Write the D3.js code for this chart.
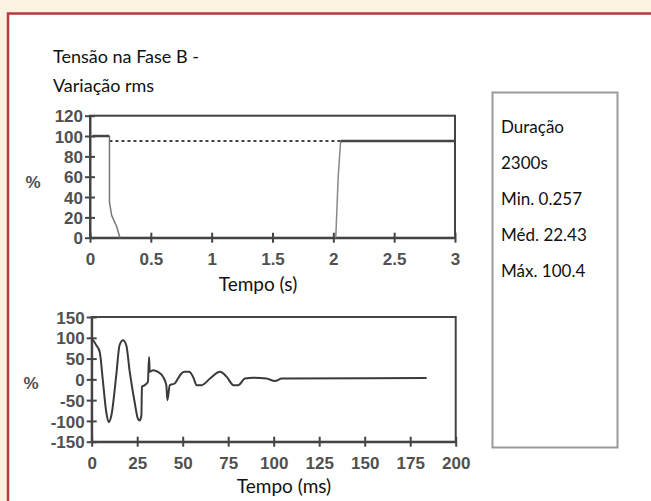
<!DOCTYPE html>
<html>
<head>
<meta charset="utf-8">
<script src="https://cdn.jsdelivr.net/npm/d3@7/dist/d3.min.js"></script>
<style>
  html, body { margin: 0; padding: 0; background: #fcf2e4; }
  svg { display: block; }
</style>
</head>
<body>
<svg id="chart" width="651" height="501"></svg>
<script>
// ---------- DATA ----------
const titleLines = ["Tensão na Fase B -", "Variação rms"];
const statLines = ["Duração", "2300s", "Min. 0.257", "Méd. 22.43", "Máx. 100.4"];

// Top chart: rms variation (time in s, value in %)
const rmsTicksX = [0, 0.5, 1, 1.5, 2, 2.5, 3];
const rmsTicksY = [0, 20, 40, 60, 80, 100, 120];
const rmsPreTime = [0.02, 0.16];
const rmsPreValue = [100, 100];
const rmsDropTime = [0.16, 0.16, 0.178, 0.219, 0.246];
const rmsDropValue = [100, 35, 22, 11, 0];
const rmsRiseTime = [2.02, 2.04, 2.06];
const rmsRiseValue = [0, 60, 95];
const rmsPostTime = [2.06, 3];
const rmsPostValue = [95, 95];
const rmsRefTime = [0.16, 2.06];
const rmsRefValue = [95, 95];

// Bottom chart: waveform (time in ms, value in %)
const waveTicksX = [0, 25, 50, 75, 100, 125, 150, 175, 200];
const waveTicksY = [-150, -100, -50, 0, 50, 100, 150];
const waveTime = [0, 0.7, 2.5, 4.4, 6.2, 8, 9.3, 10.8, 13.5, 15.3, 17.2, 19, 20.9, 23.6, 25.4, 26.4, 27.3, 27.6, 29.1, 30.9, 31.5, 31.9, 33.7, 36.4, 39.2, 41, 41.6, 42.9, 45.6, 47.4, 49.3, 51.1, 53.5, 55.8, 57.7, 60.4, 65, 70.5, 74.2, 77.9, 80.5, 84.2, 88.8, 96, 100.7, 104.4, 184];
const waveValue = [95, 94, 82, 66, -6, -79, -103, -87, 10, 82, 94, 82, 18, -55, -95, -99, -87, -18, -14, -6, 54, 18, 22, 18, 6, -14, -50, -14, -10, 2, 14, 18, 18, 5, -14, -14, 2, 18, 6, -14, -14, 2, 4, 2, -4, 2, 3];

// ---------- DRAW ----------
const svg = d3.select("#chart");
const frameCol = "#444";
const tickFont = "'Liberation Sans Narrow', 'Arial Narrow', sans-serif";
const textFont = "Lato, 'Open Sans', sans-serif";

// outer panel with red border
svg.append("rect").attr("x", 0).attr("y", 0).attr("width", 651).attr("height", 501).attr("fill", "#fcf2e4");
svg.append("rect").attr("x", 9).attr("y", 15).attr("width", 642).attr("height", 486).attr("fill", "#fff");
svg.append("path").attr("d", "M8,501 V13.5 H651").attr("fill", "none")
  .attr("stroke", "#b8393e").attr("stroke-width", 2.5);

// title
svg.append("g").selectAll("text").data(titleLines).join("text")
  .attr("x", 53).attr("y", (d, i) => 63 + i * 29)
  .attr("font-family", textFont).attr("font-size", 18).attr("fill", "#111")
  .text(d => d);

// stats box
svg.append("rect").attr("x", 492.5).attr("y", 92.5).attr("width", 125).attr("height", 355)
  .attr("fill", "#fff").attr("stroke", "#9a9a9a").attr("stroke-width", 2);
svg.append("g").selectAll("text").data(statLines).join("text")
  .attr("x", 501).attr("y", (d, i) => 133 + i * 36)
  .attr("font-family", textFont).attr("font-size", 17).attr("fill", "#111")
  .text(d => d);

function drawPanel(cfg) {
  const x = d3.scaleLinear().domain(cfg.xDomain).range(cfg.xRange);
  const y = d3.scaleLinear().domain(cfg.yDomain).range(cfg.yRange);
  const g = svg.append("g");

  g.append("rect").attr("x", cfg.xRange[0]).attr("y", cfg.yRange[1])
    .attr("width", cfg.xRange[1] - cfg.xRange[0]).attr("height", cfg.yRange[0] - cfg.yRange[1])
    .attr("fill", "none").attr("stroke", frameCol).attr("stroke-width", 2);

  const ax = g.append("g").attr("transform", `translate(0,${cfg.yRange[0]})`)
    .call(d3.axisBottom(x).tickValues(cfg.xTicks).tickSize(0).tickPadding(0).tickFormat(d => String(d)));
  ax.select(".domain").attr("stroke", frameCol).attr("stroke-width", 2);
  ax.selectAll(".tick line").attr("y1", -5).attr("y2", 5).attr("stroke", frameCol).attr("stroke-width", 2);
  ax.selectAll(".tick text").attr("y", 27).attr("dy", 0)
    .attr("font-family", tickFont).attr("font-weight", "bold").attr("font-size", 17).attr("fill", "#505050");

  const ay = g.append("g").attr("transform", `translate(${cfg.xRange[0]},0)`)
    .call(d3.axisLeft(y).tickValues(cfg.yTicks).tickSize(0).tickPadding(0).tickFormat(d => String(d)));
  ay.select(".domain").attr("stroke", frameCol).attr("stroke-width", 2);
  ay.selectAll(".tick line").attr("x1", -5).attr("x2", 5).attr("stroke", frameCol).attr("stroke-width", 2);
  ay.selectAll(".tick text").attr("x", -7).attr("dy", "0.36em")
    .attr("font-family", tickFont).attr("font-weight", "bold").attr("font-size", 17).attr("fill", "#505050");

  g.append("text").attr("x", cfg.pctX).attr("y", cfg.pctY)
    .attr("font-family", tickFont).attr("font-weight", "bold").attr("font-size", 17)
    .attr("fill", "#505050").attr("text-anchor", "middle").attr("dy", "0.36em").text("%");

  g.append("text").attr("x", cfg.titleX).attr("y", cfg.titleY)
    .attr("font-family", textFont).attr("font-size", 19).attr("fill", "#111")
    .attr("text-anchor", "middle").text(cfg.title);

  return { g, x, y };
}

function seriesLine(p, ts, vs, stroke, width, dash, curve) {
  const pts = ts.map((t, i) => [t, vs[i]]);
  const line = d3.line().x(d => p.x(d[0])).y(d => p.y(d[1])).curve(curve || d3.curveLinear);
  p.g.append("path").datum(pts).attr("d", line).attr("fill", "none")
    .attr("stroke", stroke).attr("stroke-width", width)
    .attr("stroke-dasharray", dash || null).attr("stroke-linejoin", "round");
}

// top
const topPanel = drawPanel({
  xDomain: [0, 3], xRange: [90, 455], yDomain: [0, 120], yRange: [237.7, 115.7],
  xTicks: rmsTicksX, yTicks: rmsTicksY, pctX: 33, pctY: 182,
  title: "Tempo (s)", titleX: 258, titleY: 291
});
seriesLine(topPanel, rmsRefTime, rmsRefValue, "#444", 2, "3,3");
seriesLine(topPanel, rmsDropTime, rmsDropValue, "#777", 1.5);
seriesLine(topPanel, rmsRiseTime, rmsRiseValue, "#888", 1.5);
seriesLine(topPanel, rmsPreTime, rmsPreValue, "#444", 2.5);
seriesLine(topPanel, rmsPostTime, rmsPostValue, "#444", 2.5);

// bottom
const botPanel = drawPanel({
  xDomain: [0, 200], xRange: [91.7, 455.7], yDomain: [-150, 150], yRange: [441.7, 317],
  xTicks: waveTicksX, yTicks: waveTicksY, pctX: 31, pctY: 383,
  title: "Tempo (ms)", titleX: 284, titleY: 493
});
seriesLine(botPanel, waveTime, waveValue, "#3a3a3a", 2, null, d3.curveMonotoneX);
</script>
</body>
</html>
